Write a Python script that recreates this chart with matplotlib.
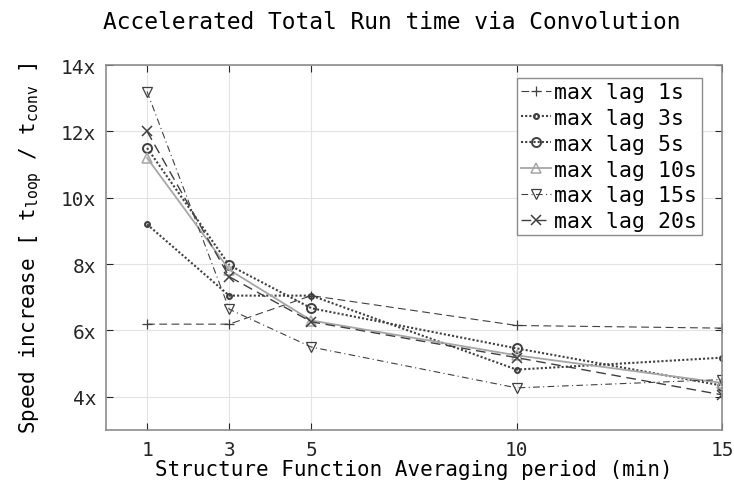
import matplotlib
matplotlib.use("Agg")
import matplotlib.pyplot as plt

# averaging period (min)
periods = [1, 3, 5, 10, 15]

# speed increase per max lag
lag_1s = [6.19, 6.19, 7.05, 6.15, 6.07]
lag_3s = [9.2, 7.05, 7.05, 4.82, 5.18]
lag_5s = [11.5, 7.97, 6.67, 5.46, 4.34]
lag_10s = [11.2, 7.83, 6.3, 5.25, 4.42]
lag_15s = [13.2, 6.64, 5.5, 4.27, 4.52]
lag_20s = [12.0, 7.62, 6.26, 5.18, 4.06]

labels = ["max lag 1s", "max lag 3s", "max lag 5s",
          "max lag 10s", "max lag 15s", "max lag 20s"]
yticks = [4, 6, 8, 10, 12, 14]

plt.rcParams["font.family"] = ["DejaVu Sans Mono"]
plt.rcParams["mathtext.fontset"] = "custom"
plt.rcParams["mathtext.rm"] = "DejaVu Sans Mono"
plt.rcParams["mathtext.it"] = "DejaVu Sans Mono"

dark = "#404040"
light = "#a6a6a6"

fig = plt.figure(figsize=(7.34, 4.89), dpi=100)
ax = fig.add_axes([0.1444, 0.1186, 0.8393, 0.7464])

ax.plot(periods, lag_1s, color=dark, ls=(0, (7, 4)), lw=0.8, marker="+",
        ms=7, mew=0.9, label=labels[0])
ax.plot(periods, lag_3s, color=dark, ls=(0, (1, 1)), lw=1.5, marker="o",
        ms=3.5, mfc="none", mew=1.5, label=labels[1])
ax.plot(periods, lag_5s, color=dark, ls=(0, (1, 1)), lw=1.5, marker="o",
        ms=6.5, mfc="none", mew=1.4, label=labels[2])
ax.plot(periods, lag_10s, color=light, ls="-", lw=1.3, marker="^",
        ms=6.5, mfc="none", mew=1.1, label=labels[3])
ax.plot(periods, lag_15s, color=dark, ls=(0, (6, 3, 1, 3)), lw=0.8, marker="v",
        ms=6.5, mfc="none", mew=0.9, label=labels[4])
ax.plot(periods, lag_20s, color=dark, ls=(0, (7, 4)), lw=1.0, marker="x",
        ms=7, mew=1.1, label=labels[5])

ax.set_xlim(0, 15)
ax.set_ylim(3, 14)
ax.set_xticks(periods)
ax.set_yticks(yticks)
ax.set_yticklabels([f"{v}x" for v in yticks])
ax.tick_params(direction="in", length=5, width=0.8, top=True, right=True,
               labelsize=14, colors="#262626", pad=7)
ax.grid(True, color="#e3e3e3", lw=0.8)
for s in ax.spines.values():
    s.set_color("#8c8c8c")
    s.set_linewidth(1.2)

ax.set_title("Accelerated Total Run time via Convolution", fontsize=16.5,
             x=0.464, pad=27)
ax.set_xlabel("Structure Function Averaging period (min)", fontsize=15, labelpad=0)
ax.set_ylabel(r"Speed increase [ t$_{\mathrm{loop}}$ / t$_{\mathrm{conv}}$ ]",
              fontsize=15, labelpad=12)

leg = ax.legend(loc="upper right", bbox_to_anchor=(0.967, 0.965), fontsize=15.5,
                handlelength=1.4, handletextpad=0.15, borderpad=0.2,
                labelspacing=0.27, borderaxespad=0.0, fancybox=False,
                framealpha=1.0, edgecolor="#8c8c8c")
leg.get_frame().set_linewidth(1.0)

fig.savefig("out.png", dpi=100)
